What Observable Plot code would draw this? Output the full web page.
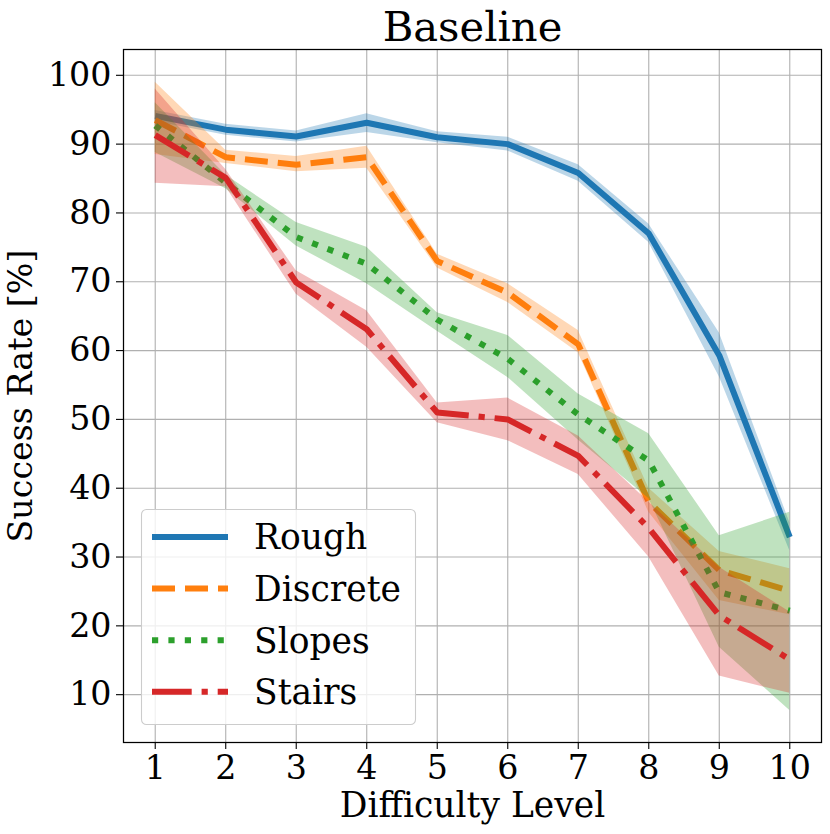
<!DOCTYPE html>
<html>
<head>
<meta charset="utf-8">
<script src="https://cdn.jsdelivr.net/npm/d3@7"></script>
<script src="https://cdn.jsdelivr.net/npm/@observablehq/plot@0.6"></script>
<style>
  html, body { margin: 0; padding: 0; background: white; }
  #chart { width: 830px; height: 834px; }
</style>
</head>
<body>
<div id="chart"></div>
<script>
// ---- data ----
const levels = [1, 2, 3, 4, 5, 6, 7, 8, 9, 10];
const yTicks = [10, 20, 30, 40, 50, 60, 70, 80, 90, 100];

const seriesNames = ["Rough", "Discrete", "Slopes", "Stairs"];
const seriesColors = ["#1f77b4", "#ff7f0e", "#2ca02c", "#d62728"];

const rough   = [94.1, 92.1, 91.1, 93.1, 91.0, 90.0, 85.8, 77.0, 59.3, 32.9];
const roughLo = [93.3, 91.3, 90.3, 91.7, 90.2, 89.0, 84.6, 75.7, 56.2, 30.9];
const roughHi = [94.9, 92.9, 91.9, 94.4, 91.8, 91.0, 87.0, 78.4, 62.6, 35.0];

const discrete   = [93.5, 88.1, 87.0, 88.1, 73.0, 68.4, 60.9, 38.0, 28.1, 25.1];
const discreteLo = [88.5, 87.2, 86.0, 86.5, 72.0, 67.0, 59.7, 36.5, 23.7, 21.6];
const discreteHi = [99.0, 89.1, 88.2, 89.7, 74.0, 69.7, 62.9, 40.0, 30.8, 28.3];

const slopes   = [92.7, 84.4, 76.5, 72.6, 64.5, 58.8, 50.7, 44.0, 24.9, 22.2];
const slopesLo = [88.8, 83.5, 75.2, 69.7, 62.8, 56.1, 47.0, 38.5, 16.9, 7.7];
const slopesHi = [96.0, 85.5, 78.6, 75.0, 65.5, 62.2, 53.7, 47.9, 33.1, 36.5];

const stairs   = [91.3, 85.1, 69.9, 63.1, 51.0, 50.0, 44.7, 34.2, 21.5, 15.1];
const stairsLo = [84.3, 83.8, 68.2, 60.5, 49.5, 46.9, 42.0, 30.0, 12.7, 10.2];
const stairsHi = [98.0, 86.3, 71.6, 65.8, 52.4, 53.1, 47.6, 38.0, 28.5, 22.0];

const dashes = ["none", "23,10", "6.2,10.2", "39.7,9.9,6.2,9.9"];

// ---- build tables ----
const means = [rough, discrete, slopes, stairs];
const lows = [roughLo, discreteLo, slopesLo, stairsLo];
const highs = [roughHi, discreteHi, slopesHi, stairsHi];

const series = seriesNames.map((name, k) => ({
  name,
  color: seriesColors[k],
  dash: dashes[k],
  rows: levels.map((x, i) => ({ x, y: means[k][i], lo: lows[k][i], hi: highs[k][i] }))
}));

const FONT = "DejaVu Serif";
const grid = { stroke: "#b0b0b0", strokeOpacity: 1, strokeWidth: 1.1 };

const seriesMarks = [];
series.forEach(s => {
  seriesMarks.push(Plot.line(s.rows, {
    x: "x", y: "y", stroke: s.color, strokeWidth: 6,
    strokeDasharray: s.dash, strokeLinejoin: "round", strokeLinecap: "butt"
  }));
  seriesMarks.push(Plot.areaY(s.rows, {
    x: "x", y1: "lo", y2: "hi", fill: s.color, fillOpacity: 0.3
  }));
});

const chart = Plot.plot({
  width: 830,
  height: 834,
  marginLeft: 123,
  marginRight: 9,
  marginTop: 49,
  marginBottom: 92,
  x: { domain: [0.55, 10.45] },
  y: { domain: [3.05, 103.75] },
  style: { fontFamily: FONT, background: "white", color: "black", overflow: "visible" },
  marks: [
    Plot.gridX(levels, grid),
    Plot.gridY(yTicks, grid),
    ...seriesMarks,
    Plot.frame({ stroke: "black", strokeWidth: 1.25 }),
    Plot.axisX(levels, { tickSize: 7, tickPadding: 6, fontSize: 33.3, label: null, tickFormat: d => String(d), strokeWidth: 1.1 }),
    Plot.axisY(yTicks, { tickSize: 7, tickPadding: 5, fontSize: 33.3, label: null, tickFormat: d => String(d), strokeWidth: 1.1 }),
    Plot.text(["Baseline"], { text: d => d, frameAnchor: "top", textAnchor: "middle", lineAnchor: "middle", dy: -21.6, fontSize: 41.7, fill: "black" }),
    Plot.text(["Difficulty Level"], { text: d => d, frameAnchor: "bottom", textAnchor: "middle", lineAnchor: "middle", dy: 63.3, fontSize: 34.5, fill: "black" }),
    Plot.text(["Success Rate [%]"], { text: d => d, frameAnchor: "left", textAnchor: "middle", lineAnchor: "middle", rotate: -90, dx: -102, fontSize: 33.3, fill: "black" })
  ]
});

document.getElementById("chart").appendChild(chart);

// ---- legend (inside the axes, lower left) ----
const svg = d3.select(chart);
const lg = svg.append("g").attr("font-family", FONT).attr("text-anchor", "start");
lg.append("rect")
  .attr("x", 141.5).attr("y", 509.5)
  .attr("width", 274).attr("height", 215)
  .attr("rx", 5).attr("ry", 5)
  .attr("fill", "white").attr("fill-opacity", 0.8)
  .attr("stroke", "#cccccc").attr("stroke-width", 1.1);
series.forEach((s, i) => {
  const cy = 537 + i * 51.6;
  lg.append("line")
    .attr("x1", 152).attr("x2", 228)
    .attr("y1", cy).attr("y2", cy)
    .attr("stroke", s.color).attr("stroke-width", 6)
    .attr("stroke-dasharray", s.dash === "none" ? null : s.dash)
    .attr("stroke-linecap", "butt");
  lg.append("text")
    .attr("x", 254).attr("y", cy).attr("dy", "0.36em")
    .attr("text-anchor", "start")
    .attr("font-size", 34.5).attr("fill", "black")
    .text(s.name);
});
</script>
</body>
</html>
